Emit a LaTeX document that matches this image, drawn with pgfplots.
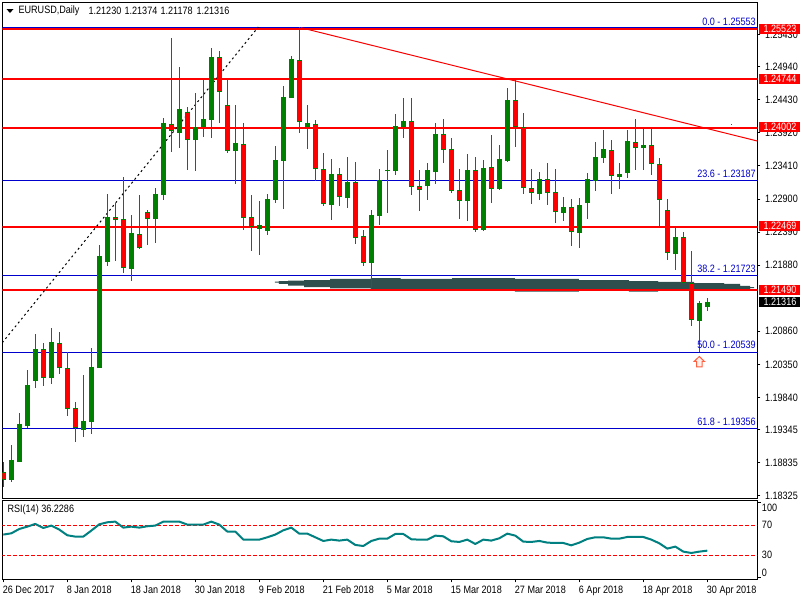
\documentclass[border=0pt]{standalone}
\usepackage{fontspec}
\setmainfont[FakeStretch=0.85]{Liberation Sans}
\usepackage{pgfplots}
\usepackage{pgfplotstable}
\pgfplotsset{compat=1.18}

\definecolor{bull}{HTML}{008000}
\definecolor{bear}{HTML}{FF0000}
\definecolor{fibo}{HTML}{0000CD}
\definecolor{band}{HTML}{2F4F4F}
\definecolor{rsi}{HTML}{008080}
\newcommand{\chartfont}{\fontsize{8}{9}\selectfont}

% i top bottom high low, prices of the daily bars
\pgfplotstableread{
i top bot high low
1 1.18876 1.18567 1.19107 1.18541
2 1.19431 1.18850 1.19601 1.18850
3 1.20032 1.19400 1.20264 1.19369
4 1.20587 1.20099 1.20819 1.19991
6 1.20695 1.20145 1.20911 1.20052
10 1.19477 1.19343 1.20186 1.19235
11 1.20310 1.19462 1.20603 1.19281
12 1.22021 1.20299 1.22191 1.20299
13 1.22623 1.21934 1.22978 1.21872
16 1.22372 1.21826 1.22654 1.21641
19 1.22973 1.22597 1.23070 1.22227
20 1.24068 1.22967 1.24149 1.22885
22 1.24284 1.23923 1.24931 1.23687
24 1.24006 1.23806 1.24530 1.23332
25 1.24129 1.24006 1.24746 1.23856
26 1.25085 1.24123 1.25224 1.23841
29 1.23759 1.23645 1.24345 1.23132
32 1.22495 1.22442 1.22865 1.22042
33 1.22896 1.22412 1.22973 1.22345
34 1.23497 1.22885 1.23718 1.22843
35 1.24469 1.23491 1.24643 1.22746
36 1.25055 1.24462 1.25105 1.24462
38 1.24068 1.24006 1.24345 1.23671
41 1.23281 1.22813 1.23513 1.22577
43 1.23158 1.22921 1.23543 1.22762
46 1.22654 1.21918 1.22731 1.21517
47 1.23189 1.22643 1.23363 1.22499
48 1.23343 1.23332 1.23656 1.22689
49 1.24021 1.23332 1.24207 1.23270
50 1.24099 1.24006 1.24458 1.23841
53 1.23343 1.23106 1.23456 1.22885
54 1.23898 1.23317 1.24068 1.23132
58 1.23343 1.22874 1.23590 1.22561
60 1.23374 1.22427 1.23497 1.22407
62 1.23513 1.23055 1.23733 1.23039
63 1.24422 1.23486 1.24612 1.23471
67 1.23204 1.22982 1.23317 1.22885
70 1.22772 1.22689 1.22931 1.22561
72 1.22803 1.22381 1.22916 1.22145
73 1.23204 1.22843 1.23301 1.22592
74 1.23543 1.23183 1.23779 1.23024
75 1.23667 1.23537 1.23964 1.23456
77 1.23281 1.23244 1.23456 1.23055
78 1.23790 1.23306 1.23964 1.23224
80 1.23728 1.23682 1.23980 1.23348
84 1.22310 1.22057 1.22453 1.21806
87 1.21292 1.21024 1.21328 1.20539
88 1.21316 1.21230 1.21374 1.21178
}\upbars

\pgfplotstableread{
i top bot high low
0 1.18686 1.18567 1.18850 1.18464
5 1.20587 1.20145 1.20680 1.20022
7 1.20680 1.20299 1.20850 1.20207
8 1.20294 1.19667 1.20546 1.19559
9 1.19673 1.19365 1.19770 1.19158
14 1.22618 1.22581 1.22834 1.21949
15 1.22587 1.21832 1.23235 1.21764
17 1.22356 1.22149 1.22957 1.22125
18 1.22695 1.22597 1.22726 1.22191
21 1.24062 1.23944 1.25383 1.23625
23 1.24247 1.23806 1.24314 1.23348
27 1.25085 1.24546 1.25178 1.24072
28 1.24345 1.23645 1.24746 1.23614
30 1.23744 1.22612 1.24068 1.22422
31 1.22618 1.22464 1.22957 1.22103
37 1.25039 1.24092 1.25553 1.23923
39 1.24062 1.23358 1.24114 1.23183
40 1.23358 1.22819 1.23605 1.22792
42 1.23281 1.22936 1.23378 1.22792
44 1.23158 1.22304 1.23466 1.22211
45 1.22325 1.21918 1.22422 1.21872
51 1.24099 1.23090 1.24458 1.22962
52 1.23096 1.23035 1.23348 1.22715
55 1.23898 1.23661 1.24129 1.23456
56 1.23667 1.23028 1.23836 1.22993
57 1.23035 1.22874 1.23363 1.22592
59 1.23343 1.22427 1.23543 1.22392
61 1.23389 1.23050 1.23887 1.22839
64 1.24422 1.24006 1.24762 1.23702
65 1.24006 1.23065 1.24222 1.22978
66 1.23065 1.22988 1.23363 1.22823
68 1.23204 1.22998 1.23456 1.22808
69 1.23004 1.22695 1.23363 1.22530
71 1.22772 1.22396 1.22900 1.22176
76 1.23651 1.23250 1.23810 1.22978
79 1.23775 1.23682 1.24134 1.23348
81 1.23728 1.23445 1.24006 1.23270
82 1.23436 1.22880 1.23528 1.22473
83 1.22726 1.22072 1.22900 1.21960
85 1.22310 1.21601 1.22392 1.21601
86 1.21601 1.21030 1.22099 1.20942
}\downbars

\pgfplotstableread{
i v
0 57.6
1 59.3
2 65.1
3 68.2
4 71.8
5 66.4
6 69.6
7 64.2
8 56.7
9 54.9
10 54.9
11 62.9
12 71.3
13 74.0
14 74.9
15 66.9
16 68.2
17 66.9
18 68.7
19 69.6
20 74.9
21 74.9
22 74.9
23 70.9
24 70.9
25 70.9
26 74.9
27 70.9
28 61.6
29 61.6
30 50.9
31 50.9
32 50.9
33 54.0
34 57.6
35 63.3
36 66.9
37 58.9
38 58.9
39 54.0
40 49.1
41 50.9
42 49.6
43 50.9
44 43.8
45 42.4
46 49.1
47 52.2
48 52.2
49 58.4
50 58.4
51 51.3
52 50.9
53 50.9
54 56.2
55 55.3
56 48.7
57 47.8
58 50.9
59 45.1
60 50.9
61 49.6
62 52.7
63 58.9
64 56.2
65 48.2
66 47.8
67 49.1
68 46.9
69 46.4
70 46.4
71 43.3
72 46.9
73 51.8
74 54.0
75 54.0
76 52.2
77 52.2
78 54.4
79 54.4
80 54.4
81 50.9
82 46.0
83 38.9
84 41.6
85 34.9
86 33.1
87 34.9
88 36.2
}\rsivalues

\pgfplotsset{
  every tick/.style={black,line width=0.75pt},
  wick/.style={draw=none,mark=none,forget plot,
    error bars/.cd,y dir=both,y explicit,error mark=none,
    error bar style={draw=bull,line width=0.75pt}},
  body/.style={draw=none,mark=none,forget plot,
    error bars/.cd,y dir=both,y explicit,error mark=none,
    error bar style={#1}},
}

\begin{document}
\begin{tikzpicture}
\useasboundingbox (0,0) rectangle (600pt,-450pt);
\fill[white] (0,0) rectangle (600pt,-450pt);

\begin{axis}[
  at={(1.725pt,-373.725pt)},anchor=south west,
  scale only axis,width=566.25pt,height=372pt,
  xmin=-0.125,xmax=94.25,ymin=1.18285,ymax=1.25934,
  xtick=\empty,
  ytick={1.18325,1.18835,1.19345,1.19840,1.20350,1.20860,1.21880,1.22390,1.22900,1.23410,1.23920,1.24430,1.24940,1.25430},
  ytick pos=right,yticklabel pos=right,tick align=outside,
  major tick length=2.25pt,
  scaled y ticks=false,
  yticklabel style={font=\chartfont,/pgf/number format/.cd,fixed,fixed zerofill,precision=5,assume math mode=true},
  axis line style={line width=0.75pt},
]
% dark band
\addplot[fill=band,draw=none,forget plot] coordinates {
  (33.96,1.21625)(34.46,1.21625)(34.46,1.21636)(35.59,1.21636)(35.59,1.21641)(37.59,1.21641)
  (37.59,1.21651)(40.84,1.21651)(40.84,1.21667)(45.96,1.21667)(45.96,1.21682)(49.68,1.21682)
  (49.68,1.21667)(56.09,1.21667)(56.09,1.21682)(63.96,1.21682)(63.96,1.21667)(71.96,1.21667)
  (71.96,1.21651)(78.21,1.21651)(78.21,1.21636)(81.84,1.21636)(81.84,1.21621)(86.34,1.21621)
  (86.34,1.21605)(90.09,1.21605)(90.09,1.21590)(92.09,1.21590)(92.09,1.21559)(93.34,1.21559)
  (93.34,1.21543)(93.84,1.21543)(93.84,1.21528)(93.34,1.21528)(93.34,1.21513)(81.84,1.21513)
  (81.84,1.21471)(78.21,1.21471)(78.21,1.21513)(71.96,1.21513)(71.96,1.21471)(63.96,1.21471)
  (63.96,1.21513)(45.96,1.21513)(45.96,1.21523)(40.84,1.21523)(40.84,1.21543)(37.59,1.21543)
  (37.59,1.21564)(35.59,1.21564)(35.59,1.21590)(34.46,1.21590)(34.46,1.21610)(33.96,1.21610)
} --cycle;
% fibonacci levels
\addplot[fibo,line width=0.75pt,forget plot] coordinates {(-1,1.25553)(95,1.25553)};
\addplot[fibo,line width=0.75pt,forget plot] coordinates {(-1,1.23187)(95,1.23187)};
\addplot[fibo,line width=0.75pt,forget plot] coordinates {(-1,1.21723)(95,1.21723)};
\addplot[fibo,line width=0.75pt,forget plot] coordinates {(-1,1.20539)(95,1.20539)};
\addplot[fibo,line width=0.75pt,forget plot] coordinates {(-1,1.19356)(95,1.19356)};
% horizontal levels
\addplot[bear,line width=1.5pt,forget plot] coordinates {(-1,1.25523)(95,1.25523)};
\addplot[bear,line width=1.5pt,forget plot] coordinates {(-1,1.24744)(95,1.24744)};
\addplot[bear,line width=1.5pt,forget plot] coordinates {(-1,1.24002)(95,1.24002)};
\addplot[bear,line width=1.5pt,forget plot] coordinates {(-1,1.22469)(95,1.22469)};
\addplot[bear,line width=1.5pt,forget plot] coordinates {(-1,1.21490)(95,1.21490)};
% trend lines
\addplot[bear,line width=0.75pt,forget plot] coordinates {(37.2,1.25542)(94.25,1.23795)};
\addplot[bear,line width=0.75pt,forget plot] coordinates {(91.0,1.24052)(91.12,1.24052)};
\addplot[black,line width=0.75pt,dash pattern=on 1.5pt off 2.25pt,forget plot] coordinates {(-0.125,1.20685)(31.875,1.25553)};
% wicks
\addplot[wick] table[x=i,y=top,y error plus expr=\thisrow{high}-\thisrow{top},y error minus expr=\thisrow{top}-\thisrow{low}] {\upbars};
\addplot[wick] table[x=i,y=top,y error plus expr=\thisrow{high}-\thisrow{top},y error minus expr=\thisrow{top}-\thisrow{low}] {\downbars};
% bodies
\addplot[body={draw=bull,line width=3.75pt}] table[x=i,y=top,y error plus expr=0,y error minus expr=\thisrow{top}-\thisrow{bot}] {\upbars};
\addplot[body={draw=bull,line width=3.75pt}] table[x=i,y=top,y error plus expr=0,y error minus expr=\thisrow{top}-\thisrow{bot}] {\downbars};
\addplot[body={draw=bear,line width=2.25pt}] table[x=i,y expr=\thisrow{top}-0.00015,y error plus expr=0,y error minus expr=\thisrow{top}-\thisrow{bot}-0.0003] {\downbars};
% arrow at the low
\addplot[draw={rgb,255:red,255;green,96;blue,64},fill={rgb,255:red,255;green,240;blue,235},line width=0.75pt,forget plot] coordinates {
  (87,1.20472)(87.65,1.20395)(87.34,1.20395)(87.34,1.20310)(86.65,1.20310)(86.65,1.20395)(86.34,1.20395)
} --cycle;
\end{axis}

\begin{axis}[
  at={(1.725pt,-434.25pt)},anchor=south west,
  scale only axis,width=566.25pt,height=59.25pt,
  xmin=-0.125,xmax=94.25,ymin=-1.6,ymax=103.7,
  xtick={0,8,16,24,32,40,48,56,64,72,80,88},
  xticklabels={26 Dec 2017,8 Jan 2018,18 Jan 2018,30 Jan 2018,9 Feb 2018,21 Feb 2018,5 Mar 2018,15 Mar 2018,27 Mar 2018,6 Apr 2018,18 Apr 2018,30 Apr 2018},
  xtick pos=lower,
  xticklabel style={font=\chartfont,anchor=north west,inner xsep=0pt,inner ysep=0pt,xshift=-0.5pt,yshift=-2.2pt},
  ytick={0,100},yticklabels={,},
  ytick pos=right,tick align=outside,
  major tick length=2.6pt,
  axis line style={line width=0.75pt},
]
\addplot[bear,line width=0.75pt,dash pattern=on 2.6pt off 1.9pt,forget plot] coordinates {(-1,70)(95,70)};
\addplot[bear,line width=0.75pt,dash pattern=on 2.6pt off 1.9pt,forget plot] coordinates {(-1,30)(95,30)};
\addplot[rsi,line width=1.5pt,line join=round,forget plot] table[x=i,y=v] {\rsivalues};
\end{axis}

% texts, in pixels of the picture
\begin{scope}[x=0.75pt,y=-0.75pt,every node/.style={font=\chartfont,inner sep=0pt}]
\fill[black] (6.5,9) -- (13.5,9) -- (10,13) -- cycle;
\node[anchor=west] at (18.3,10.7) {EURUSD,Daily};
\node[anchor=west] at (88.3,10.7) {1.21230};
\node[anchor=west] at (124.3,10.7) {1.21374};
\node[anchor=west] at (160.3,10.7) {1.21178};
\node[anchor=west] at (196.3,10.7) {1.21316};
\node[anchor=east,text=fibo] at (756,21.7) {0.0 - 1.25553};
\node[anchor=east,text=fibo] at (756,174.3) {23.6 - 1.23187};
\node[anchor=east,text=fibo] at (756,269.3) {38.2 - 1.21723};
\node[anchor=east,text=fibo] at (756,345.3) {50.0 - 1.20539};
\node[anchor=east,text=fibo] at (756,422.3) {61.8 - 1.19356};
\node[anchor=west] at (7.3,509.7) {RSI(14) 36.2286};
\node[anchor=west] at (761.7,507.7) {100};
\node[anchor=west] at (761.7,525.3) {70};
\node[anchor=west] at (761.7,555.3) {30};
\node[anchor=west] at (761.7,572.5) {0};
% price boxes on the scale
\foreach \py/\txt in {28.7/1.25523,79/1.24744,127/1.24002,226/1.22469,290/1.21490}{
  \fill[bear] (758.5,\py-5) rectangle (800,\py+5);
  \node[anchor=west,text=white] at (763.3,\py) {\txt};
}
\fill[black] (758.5,296.7) rectangle (800,306.7);
\node[anchor=west,text=white] at (763.3,301.7) {1.21316};
\end{scope}
\end{tikzpicture}
\end{document}
